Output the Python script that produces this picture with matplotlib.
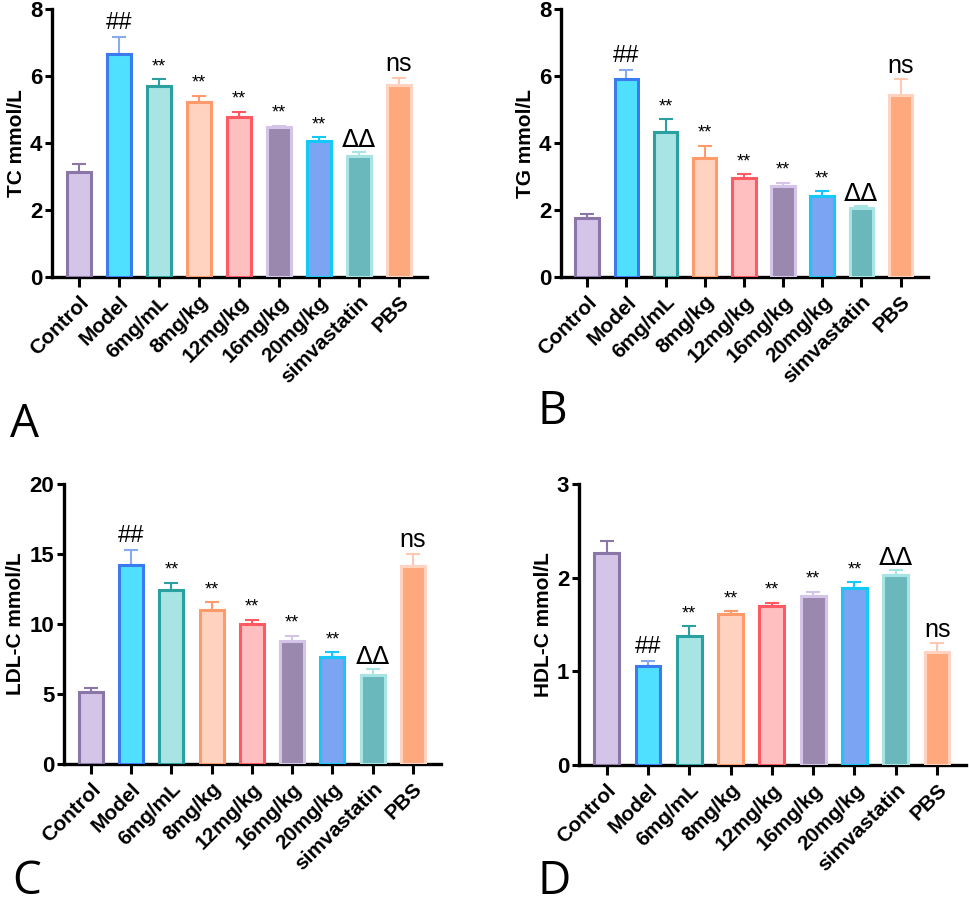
import numpy as np
import matplotlib
matplotlib.use("Agg")
import matplotlib.pyplot as plt

plt.rcParams['font.family'] = ['Liberation Sans', 'DejaVu Sans']

groups = ['Control', 'Model', '6mg/mL', '8mg/kg', '12mg/kg', '16mg/kg',
          '20mg/kg', 'simvastatin', 'PBS']

fills = ['#D4C4E8', '#4FE0FF', '#A8E4E4', '#FFD3C0', '#FFBEBF', '#9A88AE',
         '#7BA4F2', '#6AB8BC', '#FFA87E']
edges = ['#8B76A8', '#3B7BF0', '#2AA0A0', '#FF9A6A', '#FF5A64', '#D4C4E8',
         '#15C8F8', '#A8E4E4', '#FFD3C0']
errcols = ['#8B76A8', '#8AAAF0', '#2AA0A0', '#FF9A6A', '#FF5A64', '#D4C4E8',
           '#15C8F8', '#A8E4E4', '#FFC8B0']

marks = ['', '##', '**', '**', '**', '**', '**', 'ΔΔ', 'ns']

# mean values and top of error bar (mean + SD)
tc_mean = [3.13, 6.65, 5.69, 5.23, 4.79, 4.47, 4.07, 3.62, 5.73]
tc_top = [3.36, 7.16, 5.90, 5.41, 4.94, 4.52, 4.17, 3.72, 5.95]

tg_mean = [1.75, 5.90, 4.33, 3.56, 2.96, 2.71, 2.42, 2.07, 5.42]
tg_top = [1.87, 6.19, 4.71, 3.92, 3.07, 2.82, 2.56, 2.13, 5.90]

ldl_mean = [5.14, 14.22, 12.41, 11.01, 9.99, 8.80, 7.61, 6.37, 14.15]
ldl_top = [5.45, 15.27, 12.96, 11.56, 10.30, 9.16, 7.97, 6.80, 15.03]

hdl_mean = [2.26, 1.06, 1.38, 1.61, 1.70, 1.80, 1.89, 2.03, 1.21]
hdl_top = [2.39, 1.11, 1.48, 1.64, 1.73, 1.85, 1.95, 2.08, 1.30]

W, H = 969, 906


def px_axes(fig, left, right, top, bottom):
    return fig.add_axes([left / W, 1 - bottom / H, (right - left) / W, (bottom - top) / H])


def draw_panel(ax, means, tops, ymax, step, ylabel):
    x = np.arange(len(groups))
    ax.bar(x, means, width=0.6, color=fills, edgecolor=edges, linewidth=2.2, zorder=3)
    for i in range(len(groups)):
        ax.errorbar(x[i], means[i], yerr=[[0], [tops[i] - means[i]]], fmt='none',
                    ecolor=errcols[i], elinewidth=1.5, capsize=5, capthick=1.5, zorder=2)
        m = marks[i]
        if not m:
            continue
        if m == '**':
            size, off = 13, 3
        elif m == 'ΔΔ':
            size, off = 18, 0
        elif m == 'ns':
            size, off = 18, 1
        else:
            size, off = 17, 2
        ax.annotate(m, (x[i], tops[i]), xytext=(0, off), textcoords='offset points',
                    ha='center', va='bottom', fontsize=size,
                    family=['DejaVu Sans'] if m == 'ΔΔ' else None)
    ax.set_xlim(-0.67, 8.7)
    ax.set_ylim(0, ymax)
    ax.set_yticks(np.arange(0, ymax + step / 2, step))
    ax.set_xticks(x)
    ax.set_xticklabels(groups, rotation=45, ha='right', rotation_mode='anchor',
                       fontsize=15, fontweight='bold')
    for lab in ax.get_yticklabels():
        lab.set_fontweight('bold')
        lab.set_fontsize(16)
    ax.set_ylabel(ylabel, fontsize=15, fontweight='bold', labelpad=3)
    for s in ['top', 'right']:
        ax.spines[s].set_visible(False)
    for s in ['left', 'bottom']:
        ax.spines[s].set_linewidth(2.4)
    ax.tick_params(axis='y', width=2.2, length=5, pad=2)
    ax.tick_params(axis='x', width=2.2, length=7, pad=4)


fig = plt.figure(figsize=(W / 100, H / 100), dpi=100)

axA = px_axes(fig, 52, 427, 9, 277)
draw_panel(axA, tc_mean, tc_top, 8, 2, 'TC mmol/L')
axB = px_axes(fig, 561, 928, 9, 277)
draw_panel(axB, tg_mean, tg_top, 8, 2, 'TG mmol/L')
axC = px_axes(fig, 64, 441, 484, 764)
draw_panel(axC, ldl_mean, ldl_top, 20, 5, 'LDL-C mmol/L')
axD = px_axes(fig, 579, 966, 484, 765)
draw_panel(axD, hdl_mean, hdl_top, 3, 1, 'HDL-C mmol/L')

for letter, (lx, ly) in zip('ABCD', [(10, 437), (538, 424), (12, 894), (538, 894)]):
    fig.text(lx / W, 1 - ly / H, letter, fontsize=33, family=['Open Sans', 'DejaVu Sans'],
             ha='left', va='baseline')

fig.savefig('out.png', dpi=100)
